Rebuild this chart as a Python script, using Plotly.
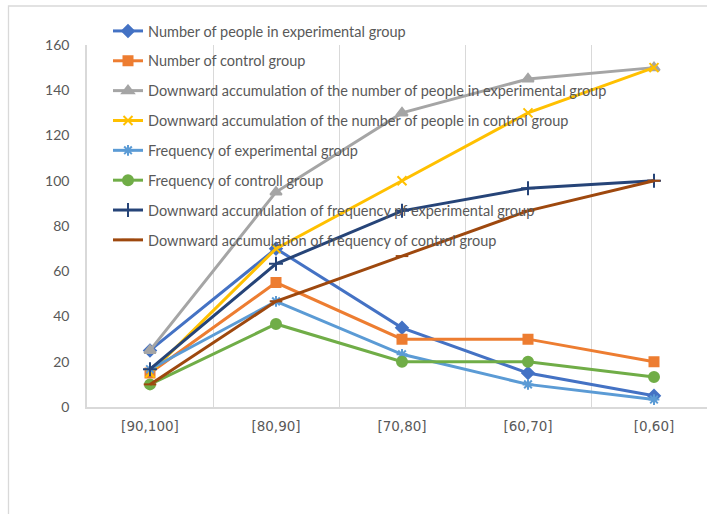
import plotly.graph_objects as go

categories = ["[90,100]", "[80,90]", "[70,80]", "[60,70]", "[0,60]"]

exp_count = [25, 70, 35, 15, 5]
ctrl_count = [15, 55, 30, 30, 20]
exp_cum_count = [25, 95, 130, 145, 150]
ctrl_cum_count = [15, 70, 100, 130, 150]
exp_freq = [16.7, 46.7, 23.3, 10.0, 3.3]
ctrl_freq = [10.0, 36.7, 20.0, 20.0, 13.3]
exp_cum_freq = [16.7, 63.3, 86.7, 96.7, 100.0]
ctrl_cum_freq = [10.0, 46.7, 66.7, 86.7, 100.0]

series = [
    ("Number of people in experimental group", exp_count, "#4472C4", "diamond", 9),
    ("Number of control group", ctrl_count, "#ED7D31", "square", 9),
    ("Downward accumulation of the number of people in experimental group", exp_cum_count, "#A5A5A5", "triangle-up", 10),
    ("Downward accumulation of the number of people in control group", ctrl_cum_count, "#FFC000", "x-thin", 9),
    ("Frequency of experimental group", exp_freq, "#5B9BD5", "asterisk", 9),
    ("Frequency of controll group", ctrl_freq, "#70AD47", "circle", 10),
    ("Downward accumulation of frequency pf experimental group", exp_cum_freq, "#264478", "cross-thin", 10),
    ("Downward accumulation of frequency of control group", ctrl_cum_freq, "#9E480E", "line-ew", 9),
]

fig = go.Figure()
for i, (name, vals, color, sym, size) in enumerate(series):
    fig.add_trace(go.Scatter(
        x=categories, y=vals, name=name, mode="lines+markers",
        legendgroup=f"g{i}",
        line=dict(color=color, width=3),
        marker=dict(symbol=sym, size=size, color=color,
                    line=dict(color=color, width=2)),
    ))

W, H = 707, 514
L, R, T, B = 87, 0, 45, 107
pw = W - L - R
ph = H - T - B

def px(p):
    return (p - L) / pw

def py(p):
    return (H - B - p) / ph

fig.add_shape(type="rect", xref="paper", yref="paper",
              x0=px(8.5), x1=px(720), y0=py(600), y1=py(6),
              line=dict(color="#D9D9D9", width=1.3), fillcolor="rgba(0,0,0,0)",
              layer="below")

fig.update_layout(
    width=W, height=H,
    margin=dict(l=L, r=R, t=T, b=B, pad=0),
    paper_bgcolor="white", plot_bgcolor="white",
    font=dict(family="Lato, Carlito, Calibri, sans-serif", size=14, color="#595959"),
    showlegend=True,
    legend=dict(x=px(108), y=py(15), xanchor="left", yanchor="top",
                bgcolor="rgba(0,0,0,0)", tracegroupgap=8,
                font=dict(size=14.5, color="#595959"), itemwidth=30),
    xaxis=dict(type="category", range=[-0.5, (W - 150) / 126], tickson="boundaries",
               showgrid=True, gridcolor="#D9D9D9", gridwidth=1,
               showline=True, linecolor="#D9D9D9", linewidth=1.5,
               ticks="", ticklabelstandoff=6, zeroline=False,
               tickfont=dict(family="DejaVu Sans, sans-serif", size=13.5, color="#595959")),
    yaxis=dict(range=[0, 160], dtick=20, showgrid=False, zeroline=False,
               showline=True, linecolor="#D9D9D9", linewidth=1.5,
               ticks="", ticklabelstandoff=13,
               tickfont=dict(size=14, color="#595959")),
)

fig.write_html("out.html")
